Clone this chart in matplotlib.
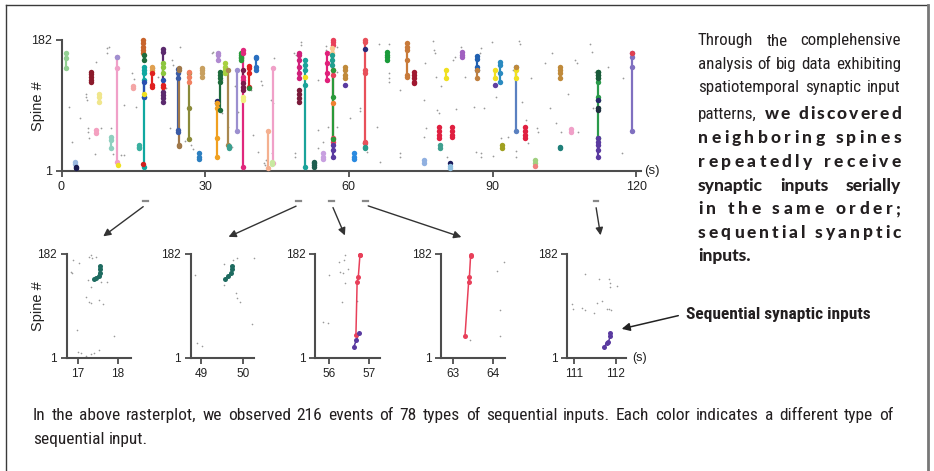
import matplotlib
matplotlib.use("Agg")
import matplotlib.pyplot as plt
import matplotlib.transforms as mtrans
from matplotlib.lines import Line2D
from matplotlib.patches import FancyArrowPatch
from matplotlib.font_manager import FontProperties, fontManager

# ---------------- data ----------------
raster_xticks = [0, 30, 60, 90, 120]
spine_ticks = [1, 182]

# sequential-input events in the raster plot: time (s), spines, colour
seq_t = [0.9, 2.8, 3.0, 6.1, 7.9, 7.1, 11.6, 11.6, 11.9, 10.3,
         14.9, 16.1, 17.2, 17.1, 17.3, 17.2, 17.1, 17.2, 19.0, 19.0,
         21.1, 21.1, 21.1, 21.1, 24.3, 24.5, 26.7, 26.7, 29.3, 28.8,
         32.5, 32.5, 33.1, 32.6, 34.1, 34.8, 34.9, 36.7, 37.5, 38.0,
         38.0, 38.0, 39.1, 39.2, 40.6, 44.1, 43.2, 43.9, 49.6, 49.6,
         50.8, 50.8, 52.7, 54.7, 55.4, 56.6, 56.4, 56.5, 56.6, 56.6,
         56.6, 59.2, 59.2, 61.0, 63.3, 63.3, 63.4, 68.0, 72.1, 73.6,
         80.3, 83.6, 86.7, 86.7, 90.6, 90.6, 91.5, 95.0, 95.0, 95.0,
         96.7, 78.9, 81.5, 79.0, 92.0, 104.1, 104.1, 106.4, 112.1, 112.1,
         112.0, 112.1, 112.1, 119.1, 119.2, 75.7, 81.2, 81.2, 98.8, 98.8]
seq_spines = [
    [163.6, 156.7, 142.9], [14, 11], [7, 4.7], [138, 135, 131, 127, 124.4],
    [108, 102.8, 96.8], [57.7, 54], [158, 144, 14], [158], [9],
    [47.5, 43.8, 32.3], [118.9, 115.2], [37, 34.6, 32.3],
    [145, 140.6, 136, 126.7, 103.7, 7], [182, 177.4, 172.8, 168, 163.6],
    [161, 154.4], [124.4, 102.8], [10.7], [108], [145, 140.6, 136],
    [136, 119.8, 117.5], [169, 165.9, 110.6, 106, 101.4, 96.8],
    [150.7, 145, 136], [119.8, 117.5], [126.7],
    [141.5, 136, 129, 57.7, 55.4], [144, 140, 37.5, 35.5], [136, 87.6, 45],
    [138, 131, 124.4], [142.9, 140.6, 136, 130.4], [25.4, 20.8, 17.1],
    [98.2, 94.5], [94.5, 87.6, 46, 20.8], [138, 133.7, 129, 124.4, 85.3],
    [163.6, 161.3, 155], [149.8, 145.2, 140.6, 136], [140.6, 37], [35.5, 32.3],
    [140.6, 56.3], [163.6, 161.3, 159, 156.7, 154.4], [168, 163.6, 131, 126.7, 7],
    [140.6, 122, 117.5, 113], [103.7, 99], [146.5, 142.9, 136, 117.5], [115.2],
    [159, 156.7, 145.2, 140.6], [144, 11.6], [56.7, 4.7], [13.9, 10.7],
    [164.5, 161.3, 154.4, 145.2, 136, 129], [113, 108, 101.4, 96.8],
    [154.4, 147.5, 140.6, 119.8, 7], [131], [13.9, 11.6, 9.3, 7],
    [25.4, 20.8, 17.1], [163.6, 149.8, 136, 126.7],
    [182, 179.7, 175, 140.6, 133.7, 46, 41.5], [170.5, 163.6],
    [161.3, 154.4, 147.5], [140.6, 103.7, 45], [94.5], [37, 30, 20.8],
    [145, 140.6, 133.7, 129], [119.8], [25.4, 20.8, 17.1],
    [182, 179.7, 140.6, 136, 41.5, 39], [169], [34.6, 32.3],
    [165.9, 161.3, 158, 154.4], [178.3, 172.8, 168, 154.4, 133.7, 130.4],
    [138, 133.7, 129, 124.4, 122], [140.6, 129], [165, 161.3, 158],
    [159.9, 155.3, 145.2, 140.6], [140.6, 129], [140.6, 129], [119.8],
    [152, 147.5, 136, 124.4], [145.2, 56.3], [140.6, 129], [145.2],
    [61.3, 56.3, 50.7, 46], [61.3, 56.3, 50.7, 46], [61.3, 56.3, 50.7, 47.3],
    [37, 32.3], [37, 32.3], [145.2, 140.6, 136, 129], [34.6, 32.3], [58.6, 55.4],
    [138, 133.7, 129, 124.4, 103.7, 99, 87.6, 46], [138, 133.7, 129], [99],
    [87.6, 85.3], [46, 41.5, 37, 30, 20.8], [163.6, 159, 145.2, 56.3], [163.6],
    [16.2, 11.6], [11.6], [8.4, 4.7], [16.2, 12.5], [7.9]]
seq_colors = [
    '#93d093', '#9ab8e0', '#1a1a50', '#8b1a2b', '#f0e68c', '#f4a0c0', '#f0a0c8',
    '#a090d0', '#f0e020', '#8fd0c0', '#f4a6a6', '#3ab0a0', '#10a8a0', '#c8642c',
    '#1e6b3c', '#2a50b0', '#d02020', '#f0e020', '#e0a050', '#e02020', '#5b2a6e',
    '#8dc63f', '#e02020', '#2a50b0', '#3b5ba5', '#a0784a', '#8a8a3a', '#f08060',
    '#c8a060', '#2c7fc0', '#2a2a6a', '#f0a020', '#1e6b3c', '#b08ad0', '#a8d040',
    '#a88850', '#3aa090', '#9b8fcf', '#2a9a3a', '#e0287c', '#7a1a4a', '#f0f080',
    '#e02020', '#2a8a3a', '#2a6fc0', '#f0a0c8', '#f4b090', '#c8e8a0', '#d0207a',
    '#7a1a3a', '#1aa39a', '#f0e020', '#1e5e50', '#c8a0e0', '#e0207a', '#e8405a',
    '#f8c890', '#20a090', '#2a9a3a', '#f08030', '#5a3aa0', '#c08a3a', '#5a3aa0',
    '#2a8ae0', '#e8505a', '#2a2a7a', '#2a9a8a', '#1a9a3a', '#c87a3a', '#a01830',
    '#f0e020', '#a060c0', '#2060b0', '#c08040', '#f0e020', '#6040a0', '#2a8ac0',
    '#5a80c0', '#f0e020', '#c08a3a', '#e02040', '#e02040', '#e02040', '#40a090',
    '#a0a020', '#c08a3a', '#20807a', '#f0a0c8', '#2a9a4a', '#1a5a3a', '#2a2a6a',
    '#203040', '#5a3aa0', '#8070c0', '#e04050', '#90b0e0', '#1a1a5a', '#90c0e0',
    '#a0d080', '#f08080']

# isolated (non-sequential) inputs in the raster plot
gray_t = [1.5, 2.1, 3.8, 5.1, 5.1, 5.4, 5.5, 5.5, 5.8, 7.2, 7.0, 8.2, 9.6, 9.6,
          10.0, 10.3, 10.8, 13.0, 12.5, 13.0, 14.8, 15.2, 15.6, 19.4, 20.2,
          21.8, 22.6, 23.1, 23.3, 24.8, 25.7, 27.0, 27.5, 31.7, 31.4, 32.7,
          33.6, 33.6, 35.5, 34.8, 36.3, 36.9, 39.3, 39.6, 39.9, 41.7, 41.9,
          42.3, 42.6, 44.4, 44.1, 41.0, 43.7,
          50.1, 50.1, 48.6, 49.0, 53.5, 53.5, 53.5, 55.2, 55.2, 55.6, 54.5,
          48.8, 48.8, 43.9, 42.5,
          57.6, 57.6, 57.6, 60.2, 62.3, 62.4, 63.0, 63.8, 65.8, 66.3, 66.5,
          68.4, 68.4, 68.4, 68.4, 70.7, 70.7, 70.7, 75.7, 75.9, 76.1, 75.7,
          77.5, 77.8, 78.0, 78.2, 78.5, 78.9, 79.2, 80.5, 81.7, 82.2, 82.4,
          83.4, 84.3, 86.2, 86.6, 87.3, 87.5, 87.6, 87.6, 88.2, 89.9, 90.1,
          90.8, 91.8, 93.2, 94.3, 95.0, 95.0, 95.5, 95.7, 96.2, 96.9, 97.4,
          98.1, 99.2, 99.5, 100.9, 102.0, 102.4, 103.2, 104.4, 105.7, 107.2,
          107.6, 107.9, 110.3, 110.7, 111.0, 111.4, 114.1, 117.0, 117.3]
gray_s = [90, 41.5, 73.8, 108, 102.8, 99, 60, 55, 46, 151, 25, 60, 170.5, 163.6,
          172.8, 60, 25, 92, 23, 23, 136, 127.7, 90, 143, 131,
          115, 60, 154, 147.5, 172.8, 42.5, 37, 32, 166, 163.6, 160,
          126.7, 80.7, 34.6, 62, 118.5, 83, 115, 113, 50.7, 125, 119.8,
          11.6, 16, 156.7, 94.5, 27.7, 99,
          179.7, 175, 163.6, 161, 126.7, 57.6, 32.3, 173.7, 168, 62, 41.5,
          25.4, 20.8, 25.4, 9.3,
          172.8, 138, 62, 73.8, 87.6, 84, 39, 27, 62, 177, 14,
          177, 136, 129, 124.4, 113, 25.4, 20.8, 99, 149.8, 61, 48.4,
          181, 168, 163.6, 131, 85, 80.7, 118.5, 20.8, 154.4, 159, 86,
          172.8, 130.4, 89, 27.7, 163.6, 170.5, 25.4, 20.8, 87.6, 179.7, 21.7,
          103.7, 46, 48.4, 140.6, 28.6, 20.8, 181, 177, 96.8, 71.5, 39,
          129, 60, 55.4, 149.8, 87.6, 163.6, 66.9, 55.4, 107.4, 154.4,
          149.8, 55.4, 177, 165.9, 87.6, 138, 145, 25.4, 129]

# expanded time windows
win_t0 = [16.72, 48.74, 55.65, 62.69, 110.84]
win_t1 = [18.33, 50.27, 57.27, 64.28, 112.24]
win_ticks = [[17, 18], [49, 50], [56, 57], [63, 64], [111, 112]]

# sequences shown in the expanded windows
pseq_panel = [0, 1, 2, 2, 3, 4]
pseq_t = [[17.54, 17.54, 17.54, 17.53, 17.44, 17.40],
          [49.73, 49.73, 49.72, 49.65, 49.57],
          [56.77, 56.77, 56.73, 56.70, 56.67],
          [56.75, 56.68, 56.62],
          [63.44, 63.43, 63.40, 63.38, 63.29],
          [111.86, 111.87, 111.82, 111.78, 111.71]]
pseq_s = [[161.6, 155.4, 149.5, 143.7, 140.8, 138],
          [161.6, 155.4, 149.5, 143.7, 138],
          [181, 180, 142.5, 133.8, 41],
          [45, 32.3, 20.7],
          [181, 179, 142.5, 132.6, 39.3],
          [44, 39.3, 29.4, 26.6, 19.6]]
pseq_c = ['#1e6b60', '#1e6b60', '#e8405a', '#5a3aa0', '#e8405a', '#5a3aa0']

pg_t = [[16.82, 16.86, 16.88, 17.03, 17.28, 17.32, 17.36, 17.44, 17.25, 17.32,
         17.57, 17.73, 17.19, 17.28, 17.32, 17.53, 17.63, 16.98, 17.0, 17.07,
         17.19, 17.32, 17.40, 17.53, 17.9],
        [48.85, 49.55, 49.87, 49.76, 49.84, 49.87, 49.93, 50.26, 50.22, 48.89,
         49.01, 49.55],
        [56.40, 56.26, 56.37, 56.01, 56.27, 56.34, 56.48, 56.40, 56.32, 55.86,
         55.98, 56.70],
        [64.08, 64.27, 64.17, 64.17, 63.42, 63.47],
        [111.26, 111.6, 111.84, 111.85, 111.86, 112.02, 110.95, 110.98, 111.18,
         111.26, 111.48, 111.56, 111.66, 111.78, 111.84, 111.88]]
pg_s = [[151.2, 148.4, 171.5, 165.8, 177.3, 181, 174.5, 177.3, 136.7, 125,
         133.8, 133.8, 107.7, 99, 96.2, 102, 95, 49.7, 12, 9.2,
         4.5, 8, 9.2, 14.9, 39.3],
        [145.4, 164.6, 174.5, 171.5, 113.6, 104.9, 99, 174.5, 59.6, 26.6,
         22, 128],
        [180, 167.5, 171.5, 145.4, 151.2, 148.4, 155.3, 131, 99, 64.1,
         62.4, 100],
        [152.9, 167.5, 84.5, 39.3, 32.3, 181],
        [146.6, 138, 138, 131, 124, 126.3, 95, 85.7, 87.5,
         84.5, 79.8, 97.2, 100.7, 85.7, 87, 84.5]]

# texts
ylabel_text = "Spine #"
unit_text = "(s)"
callout_text = "Sequential synaptic inputs"
side_lines = [("word", [("Through the complehensive", "r")]),
              ("word", [("analysis of big data exhibiting", "r")]),
              ("word", [("spatiotemporal synaptic input", "r")]),
              ("char", [("patterns,", "r"), ("we discovered", "b")]),
              ("char", [("neighboring spines", "b")]),
              ("char", [("repeatedly receive", "b")]),
              ("word", [("synaptic inputs serially", "b")]),
              ("char", [("in the same order;", "b")]),
              ("char", [("sequential syanptic", "b")]),
              ("left", [("inputs.", "b")])]
caption_lines = [("word", [("In the above rasterplot, we observed 216 events of 78 types of "
                            "sequential inputs. Each color indicates a different type of", "r")]),
                 ("left", [("sequential input.", "r")])]

# ---------------- layout / style ----------------
W, H = 934, 471
fig = plt.figure(figsize=(W / 100, H / 100), dpi=100)
fig.patch.set_facecolor("white")


def fx(x):
    return x / W


def fy(y):
    return 1 - y / H


# pick a condensed humanist sans if one is installed
entries = [(f.name, f.stretch, f.weight) for f in fontManager.ttflist]
names = {e[0] for e in entries}
REG, REG_STRETCH = "Open Sans", "normal"
pref = ["Liberation Sans Narrow", "Roboto Condensed", "Open Sans Condensed",
        "Noto Sans Condensed", "Noto Sans SemiCondensed", "Lato Condensed"]
found = [p for p in pref if p in names]
if found:
    REG = found[0]
else:
    for n, st, wt in entries:
        if str(st) in ("condensed", "semi-condensed") and n in (
                "Noto Sans", "Open Sans", "DejaVu Sans", "Roboto", "Inter"):
            REG, REG_STRETCH = n, st
            break
BLD = "Lato" if "Lato" in names else "Open Sans"
TICKF = "Liberation Sans" if "Liberation Sans" in names else "DejaVu Sans"
AX = "#4d4d4d"
TXT = "#231f20"
GRAY = "#9a9a9a"


def style_axes(a, xt, yt, size):
    for sp in ("top", "right"):
        a.spines[sp].set_visible(False)
    for sp in ("left", "bottom"):
        a.spines[sp].set_color(AX)
        a.spines[sp].set_linewidth(1.5)
    a.set_xticks(xt)
    a.set_yticks(yt)
    a.tick_params(direction="out", length=4, width=1.3, color=AX,
                  labelsize=size, labelcolor="#222222", pad=3)
    for lab in a.get_xticklabels() + a.get_yticklabels():
        lab.set_fontfamily(TICKF)
    a.set_facecolor("none")


# main raster
ax = fig.add_axes([fx(61.5), fy(171), fx(641) - fx(61.5), fy(40) - fy(171)])
ax.set_xlim(0, 121)
ax.set_ylim(1, 182)
style_axes(ax, raster_xticks, spine_ticks, 9)
ax.scatter(gray_t, gray_s, s=1.6, color=GRAY, linewidths=0, zorder=2, clip_on=False)
for t, ss, c in zip(seq_t, seq_spines, seq_colors):
    ax.plot([t] * len(ss), ss, "-", color=c, lw=1.6, zorder=3, clip_on=False,
            solid_capstyle="round")
    ax.plot([t] * len(ss), ss, "o", color=c, ms=3.9, mew=0, zorder=4, clip_on=False)

# window marks under the raster and arrows
blend = mtrans.blended_transform_factory(ax.transData, ax.transAxes)
arrow_end_x = [101, 226, 346, 464, 601]
inv = fig.transFigure.inverted()
for i, (a0, a1) in enumerate(zip(win_t0, win_t1)):
    ax.plot([a0 + 0.3, a1 - 0.3], [-0.228, -0.228], color="#888888", lw=1.6,
            transform=blend, clip_on=False)
    xc = inv.transform(ax.transData.transform(((a0 + a1) / 2, 1)))[0]
    arr = FancyArrowPatch((xc, fy(205)), (fx(arrow_end_x[i]), fy(238)),
                          transform=fig.transFigure, arrowstyle="-|>",
                          mutation_scale=11, lw=1.0, color="#333333")
    fig.add_artist(arr)

# expanded panels
panel_left = [66.7, 190.7, 315, 441, 567.3]
panel_w = [64.4, 63.3, 65, 63.6, 58.7]
paxes = []
for i in range(5):
    pa = fig.add_axes([fx(panel_left[i]), fy(358), panel_w[i] / W, fy(254) - fy(358)])
    pa.set_xlim(win_t0[i], win_t1[i])
    pa.set_ylim(1, 182)
    style_axes(pa, win_ticks[i], spine_ticks, 8.5)
    pa.scatter(pg_t[i], pg_s[i], s=1.4, color=GRAY, linewidths=0, zorder=2, clip_on=False)
    paxes.append(pa)
for p, tt, ss, c in zip(pseq_panel, pseq_t, pseq_s, pseq_c):
    paxes[p].plot(tt, ss, "-", color=c, lw=1.1, zorder=3, clip_on=False)
    paxes[p].plot(tt, ss, "o", color=c, ms=3.6, mew=0, zorder=4, clip_on=False)

# axis labels
fig.text(fx(38), fy(106), ylabel_text, rotation=90, ha="center", va="center",
         fontsize=10.5, family=TICKF, color="#222222")
fig.text(fx(38), fy(306), ylabel_text, rotation=90, ha="center", va="center",
         fontsize=10.5, family=TICKF, color="#222222")
fig.text(fx(644), fy(171), unit_text, ha="left", va="center", fontsize=9.5,
         family=TICKF, color="#222222")
fig.text(fx(632), fy(358), unit_text, ha="left", va="center", fontsize=9,
         family=TICKF, color="#222222")

# ---------------- justified text blocks ----------------
renderer = fig.canvas.get_renderer()


def tw(s, prop):
    w, h, d = renderer.get_text_width_height_descent(s, prop, ismath=False)
    return w


def fit_size(family, weight, sample, target, maxsize, stretch="normal"):
    p = FontProperties(family=family, weight=weight, size=12, stretch=stretch)
    return min(maxsize, 12 * target / tw(sample, p))


side_size = fit_size(REG, "normal", "analysis of big data exhibiting", 199, 12.5, REG_STRETCH)
cap_size = fit_size(REG, "normal", caption_lines[0][1][0][0], 845, 12.5, REG_STRETCH)
bsize = fit_size(BLD, "black", "synaptic inputs serially", 201, 12.5)
PROPS = {"r": FontProperties(family=REG, size=side_size, stretch=REG_STRETCH),
         "c": FontProperties(family=REG, size=cap_size, stretch=REG_STRETCH),
         "b": FontProperties(family=BLD, weight="black", size=bsize)}
SPACE = {k: tw("n n", p) - tw("nn", p) for k, p in PROPS.items()}


def draw_line(y, x0, x1, segs, mode, remap=None):
    toks = []
    if mode == "char":
        for j, (s, st) in enumerate(segs):
            if j:
                toks.append((" ", st))
            if st == "b":
                toks.extend((ch, st) for ch in s)
            else:
                words = s.split()
                for k, w in enumerate(words):
                    if k:
                        toks.append((" ", st))
                    toks.append((w, st))
    else:
        for s, st in segs:
            toks.extend((w, st) for w in s.split())
    if remap:
        toks = [(t, remap.get(st, st)) for t, st in toks]
    widths = [SPACE[st] if t == " " else tw(t, PROPS[st]) for t, st in toks]
    if mode == "left" or len(toks) == 1:
        gaps = [SPACE[st] for t, st in toks]
    else:
        g = (x1 - x0 - sum(widths)) / (len(toks) - 1)
        gaps = [g] * len(toks)
    x = x0
    for (t, st), w, g in zip(toks, widths, gaps):
        if t != " ":
            fig.text(fx(x), fy(y), t, fontproperties=PROPS[st], color=TXT,
                     ha="left", va="baseline")
        x += w + g


side_base = [45.5, 69, 91.5, 119, 143, 167, 190.5, 214, 237.5, 261.5]
for y, (mode, segs) in zip(side_base, side_lines):
    draw_line(y, 698, 901, segs, mode)
cap_base = [420, 444]
for y, (mode, segs) in zip(cap_base, caption_lines):
    draw_line(y, 33, 893, segs, mode, remap={"r": "c"})

# callout label
csize = fit_size(REG, "bold", callout_text, 190, 12.5, REG_STRETCH)
fig.text(fx(686), fy(314), callout_text, ha="left", va="center",
         fontproperties=FontProperties(family=REG, weight="bold", size=csize,
                                       stretch=REG_STRETCH), color=TXT)
fig.add_artist(FancyArrowPatch((fx(681), fy(315)), (fx(619), fy(329.5)),
                               transform=fig.transFigure, arrowstyle="-|>",
                               mutation_scale=12, lw=1.1, color="#222222"))

# frame
fig.add_artist(Line2D([fx(6), fx(928)], [fy(5), fy(5)], color="#3a3a3a", lw=1.0,
                      transform=fig.transFigure))
fig.add_artist(Line2D([fx(6), fx(6)], [fy(5), fy(472)], color="#3a3a3a", lw=1.0,
                      transform=fig.transFigure))
fig.add_artist(Line2D([fx(928), fx(928)], [fy(5), fy(472)], color="#777777", lw=2.0,
                      transform=fig.transFigure))

fig.savefig("out.png", dpi=100, facecolor="white")
